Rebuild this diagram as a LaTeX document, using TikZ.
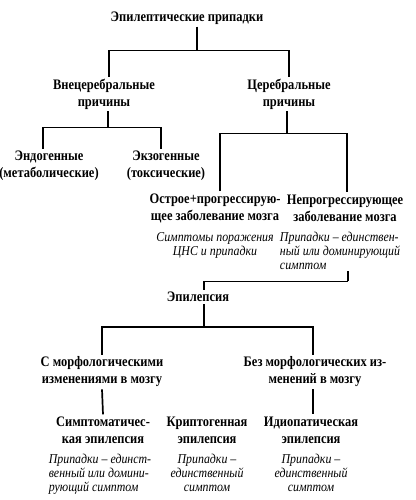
\documentclass[tikz,border=0pt]{standalone}
\usepackage{fontspec}
\setmainfont{Liberation Serif}
\newfontfamily\headfont{Liberation Serif}[FakeStretch=0.86]
\newfontfamily\notefont{Liberation Serif}[FakeStretch=0.88]
\usetikzlibrary{positioning}

\begin{document}
\begin{tikzpicture}[
        x=1pt, y=-1pt,
        every node/.style={inner sep=2pt},
        head/.style={font=\headfont\bfseries\fontsize{14.5}{17}\selectfont, align=center},
        note/.style={font=\notefont\itshape\fontsize{13.5}{14}\selectfont, align=center},
        link/.style={draw, line width=1.7pt}
    ]
    \useasboundingbox (0,0) rectangle (415,500);

    % Nodes
    \node[head] (title) at (187,18) {Эпилептические припадки};
    \node[head] (extra) at (104,94) {Внецеребральные\\причины};
    \node[head] (cereb) at (289,94) {Церебральные\\причины};
    \node[head] (endo) at (49,166) {Эндогенные\\(метаболические)};
    \node[head] (exo) at (166,166) {Экзогенные\\(токсические)};
    \node[head] (acute) at (215,208) {Острое+прогрессирую-\\щее заболевание мозга};
    \node[head] (nonprog) at (345,208) {Непрогрессирующее\\заболевание мозга};
    \node[note, below=6pt of acute] (acutenote) {Симптомы поражения\\ЦНС и припадки};
    \node[note, align=left, below=6pt of nonprog, xshift=-5pt] (nonprognote) {Припадки – единствен-\\ный или доминирующий\\симптом};
    \node[head] (epi) at (198,297) {Эпилепсия};
    \node[head] (morph) at (102,372) {С морфологическими\\изменениями в мозгу};
    \node[head] (nomorph) at (315,372) {Без морфологических из-\\менений в мозгу};
    \node[head] (sympt) at (103,430) {Симптоматичес-\\кая эпилепсия};
    \node[head] (crypt) at (207,430) {Криптогенная\\эпилепсия};
    \node[head] (idio) at (311,430) {Идиопатическая\\эпилепсия};
    \node[note, align=left, below=6pt of sympt, xshift=-3pt] (symptnote) {Припадки – единст-\\венный или домини-\\рующий симптом};
    \node[note, below=6pt of crypt] (cryptnote) {Припадки –\\единственный\\симптом};
    \node[note, below=6pt of idio] (idionote) {Припадки –\\единственный\\симптом};

    % Connectors
    \path[link] ([xshift=10pt]title.south) -- ++(0,24) coordinate (fork1);
    \path[link] ([xshift=5pt]extra.north) |- (fork1) -| (cereb.north);
    \path[link] ([xshift=4pt]extra.south) -- ++(0,16) coordinate (fork2);
    \path[link] ([xshift=-6pt]endo.north) |- (fork2) -| ([xshift=-5pt]exo.north);
    \path[link] ([xshift=-2pt]cereb.south) -- ++(0,22) coordinate (fork3);
    \path[link] ([xshift=5pt]acute.north) |- (fork3) -| ([xshift=2pt]nonprog.north);
    \path[link] ([xshift=8pt]nonprognote.south) -- ++(0,10) coordinate (fork4);
    \path[link] (fork4) -| ([xshift=6pt]epi.north);
    \path[link] ([xshift=6pt]epi.south) -- ++(0,23) coordinate (fork5);
    \path[link] (morph.north) |- (fork5) -| ([xshift=-2pt]nomorph.north);
    \path[link] (morph.south) -- (sympt.north);
    \path[link] ([xshift=-2pt]nomorph.south) -- ([xshift=-2pt]nomorph.south |- idio.north);
\end{tikzpicture}
\end{document}
